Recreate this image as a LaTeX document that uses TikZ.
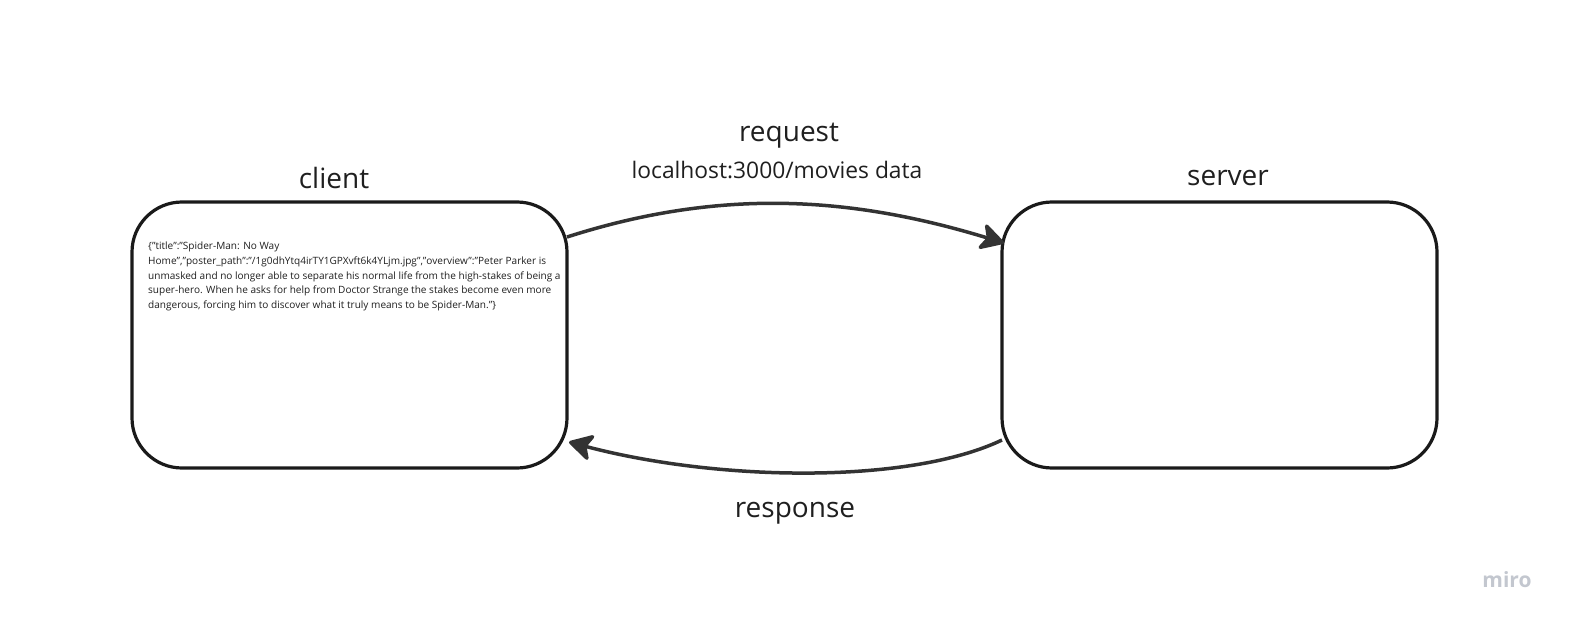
\documentclass[tikz,border=0pt]{standalone}
\usepackage{fontspec}
\setmainfont{Open Sans}
\usetikzlibrary{arrows.meta}
\definecolor{boxline}{HTML}{1A1A1A}
\definecolor{arrowcol}{HTML}{333333}
\definecolor{txt}{HTML}{1F1F1F}
\definecolor{mirocol}{HTML}{C3C7CF}
\tikzset{
  box/.style={draw=boxline, line width=3.2pt, rounded corners=50pt, minimum width=435pt, minimum height=266pt, inner sep=0pt},
  title/.style={text=txt, font=\fontsize{28}{32}\selectfont, inner sep=0pt},
  sub/.style={text=txt, font=\fontsize{22.8}{26}\selectfont, inner sep=0pt},
  body/.style={text=txt, font=\fontsize{10.05}{14.7}\selectfont, align=left, inner sep=0pt},
  flow/.style={draw=arrowcol, line width=3.5pt, -{Stealth[length=27pt, width=30pt, inset=7pt, round]}},
}
\begin{document}
\begin{tikzpicture}[x=1pt, y=-1pt]
\useasboundingbox (0,0) rectangle (1584,631);
\node[box] (client) at (349.5,335) {};
\node[box] (server) at (1219.5,335) {};
\node[title] (clientlbl) at (334,178) {client};
\node[title] (serverlbl) at (1228,178) {server};
\node[title] (reqlbl) at (789,136) {request};
\node[sub] (urllbl) at (777,170) {localhost:3000/movies data};
\node[title] (resplbl) at (795,513) {response};
\node[body, anchor=north west] (json) at (148,242) {\{"title":"Spider-Man: No Way\\
Home","poster\_path":"/1g0dhYtq4irTY1GPXvft6k4YLjm.jpg","overview":"Peter Parker is\\
unmasked and no longer able to separate his normal life from the high-stakes of being a\\
super-hero. When he asks for help from Doctor Strange the stakes become even more\\
dangerous, forcing him to discover what it truly means to be Spider-Man."\}};
\coordinate (reqstart) at (567,237);
\coordinate (reqend) at (1004,243);
\coordinate (respstart) at (1002,440);
\coordinate (respend) at (569,442);
\draw[flow] (reqstart) .. controls (720,188) and (850,196) .. (reqend);
\draw[flow] (respstart) .. controls (910,484) and (720,482) .. (respend);
\node[text=mirocol, font=\fontsize{21}{24}\bfseries, inner sep=0pt] (miro) at (1507,580) {miro};
\end{tikzpicture}
\end{document}
